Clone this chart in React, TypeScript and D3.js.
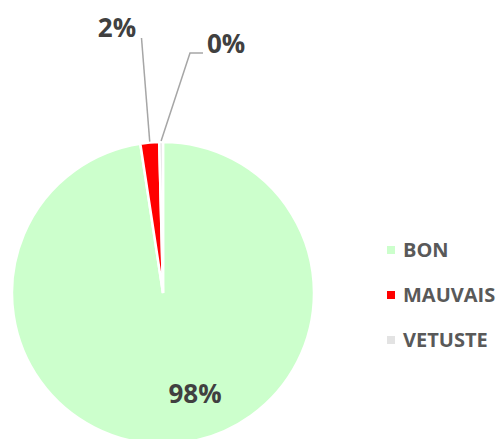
import React from "react";
import * as d3 from "d3";

const categories = ["BON", "MAUVAIS", "VETUSTE"];
const values = [97.6, 2.0, 0.4];
const colors = ["#CCFFCC", "#FF0000", "#E3E3E3"];

const W = 504;
const H = 439;
const cx = 163;
const cy = 293;
const R = 151;

export default function App() {
  const total = d3.sum(values);
  const data = categories.map((c, i) => ({ c, v: values[i], color: colors[i] }));
  const pie = d3.pie<any>().sort(null).value((d: any) => d.v).startAngle(0).endAngle(2 * Math.PI);
  const arcs = pie(data);
  const arc = d3.arc<any>().innerRadius(0).outerRadius(R);
  const pct = (v: number) => `${Math.round((v / total) * 100)}%`;
  const edge = (a: number, r: number) => [cx + r * Math.sin(a), cy - r * Math.cos(a)];

  const a1 = arcs[1];
  const a2 = arcs[2];
  const m1 = (a1.startAngle + a1.endAngle) / 2;
  const m2 = (a2.startAngle + a2.endAngle) / 2;
  const p1 = edge(m1, R);
  const p2 = edge(m2, R);

  return (
    <svg width={W} height={H} style={{ position: "absolute", left: 0, top: 0, background: "#fff" }}
      fontFamily="'Open Sans', sans-serif">
      <g transform={`translate(${cx},${cy})`}>
        {arcs.map((a, i) => (
          <path key={i} d={arc(a) as string} fill={a.data.color} stroke="#fff" strokeWidth={2.5} />
        ))}
      </g>
      {/* leader lines */}
      <polyline points={`${p1[0]},${p1[1] - 1} 141.5,38`} fill="none" stroke="#A6A6A6" strokeWidth={1.5} />
      <polyline points={`${p2[0]},${p2[1] - 1} 190,53 203,53`} fill="none" stroke="#A6A6A6" strokeWidth={1.5} />
      {/* data labels */}
      <text x={117} y={37} textAnchor="middle" fontSize={26} fontWeight={700} fill="#404040">{pct(values[1])}</text>
      <text x={207} y={53} textAnchor="start" fontSize={26} fontWeight={700} fill="#404040">{pct(values[2])}</text>
      <text x={cx + 32} y={403} textAnchor="middle" fontSize={26} fontWeight={700} fill="#404040">{pct(values[0])}</text>
      {/* legend */}
      {categories.map((c, i) => (
        <g key={c} transform={`translate(387, ${250 + i * 45})`}>
          <rect x={0} y={-4} width={8} height={8} fill={colors[i]} />
          <text x={16} y={7} fontSize={20} fontWeight={700} fill="#595959">{c}</text>
        </g>
      ))}
    </svg>
  );
}
